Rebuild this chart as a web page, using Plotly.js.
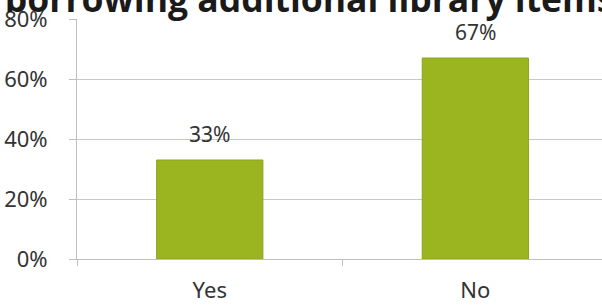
<!DOCTYPE html>
<html>
<head>
<meta charset="utf-8">
<script src="https://cdn.plot.ly/plotly-3.0.1.min.js"></script>
<style>html,body{margin:0;padding:0;overflow:hidden;background:#fff;}</style>
</head>
<body>
<div id="chart" style="width:602px;height:305px;"></div>
<script>
const titleText = "borrowing additional library items";
const categories = ["Yes", "No"];
const values = [33, 67];
const valueLabels = ["33%", "67%"];
const yTickVals = [0, 20, 40, 60, 80];
const yTickText = ["0%", "20%", "40%", "60%", "80%"];

const trace = {
  type: "bar",
  x: categories,
  y: values,
  width: 0.4,
  marker: {color: "#9bb521", line: {color: "#8aa31b", width: 1}},
  hoverinfo: "skip"
};

const annotations = categories.map((c, i) => ({
  x: c, y: values[i], xref: "x", yref: "y",
  text: valueLabels[i], showarrow: false,
  yanchor: "bottom", yshift: 10,
  font: {family: "Noto Sans, sans-serif", size: 21, color: "#333333"}
}));

const layout = {
  width: 602, height: 305,
  margin: {l: 77, r: 0, t: 19, b: 46, pad: 0},
  paper_bgcolor: "#ffffff", plot_bgcolor: "#ffffff",
  showlegend: false,
  title: {
    text: "<b>" + titleText + "</b>",
    x: 0.008, xanchor: "left", xref: "container",
    y: 1.0, yanchor: "middle", yref: "container",
    font: {family: "Open Sans, sans-serif", size: 35.5, color: "#1a1a1a"}
  },
  xaxis: {
    type: "category",
    range: [-0.5, 1.477],
    tickson: "boundaries",
    ticks: "outside", ticklen: 6, tickcolor: "#bfbfbf",
    showline: true, linecolor: "#bfbfbf", linewidth: 1,
    showgrid: false, zeroline: false,
    ticklabelstandoff: 12,
    tickfont: {family: "Noto Sans, sans-serif", size: 22, color: "#333333"}
  },
  yaxis: {
    range: [0, 80],
    tickvals: yTickVals, ticktext: yTickText,
    ticks: "outside", ticklen: 7, tickcolor: "#bfbfbf",
    showline: true, linecolor: "#bfbfbf", linewidth: 1,
    showgrid: true, gridcolor: "#c8c8c8", gridwidth: 1,
    zeroline: false,
    ticklabelstandoff: 17,
    tickfont: {family: "Noto Sans, sans-serif", size: 22, color: "#333333"}
  },
  annotations: annotations
};

Plotly.newPlot("chart", [trace], layout, {displayModeBar: false, staticPlot: true});
</script>
</body>
</html>
